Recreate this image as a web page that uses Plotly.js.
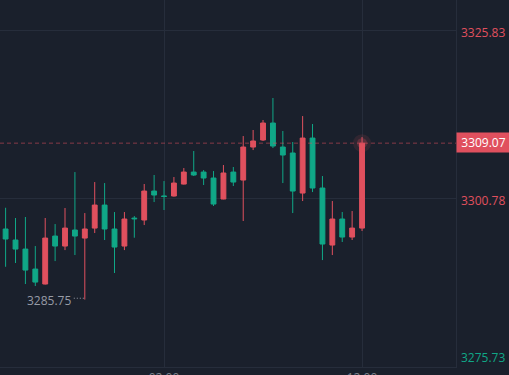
<!DOCTYPE html>
<html>
<head>
<meta charset="utf-8">
<script src="https://cdn.plot.ly/plotly-3.0.1.min.js"></script>
<style>
html,body{margin:0;padding:0;background:#1a202c;overflow:hidden;}
#chart{width:509px;height:375px;}
</style>
</head>
<body>
<div id="chart"></div>
<script>
const times = ['18:00','18:30','19:00','19:30','20:00','20:30','21:00','21:30','22:00','22:30','23:00','23:30','00:00','00:30','01:00','01:30','02:00','02:30','03:00','03:30','04:00','04:30','05:00','05:30','06:00','06:30','07:00','07:30','08:00','08:30','09:00','09:30','10:00','10:30','11:00','11:30','12:00'];
const open  = [3296.27,3294.63,3293.28,3290.30,3288.07,3295.22,3293.73,3296.12,3294.92,3296.41,3299.84,3296.27,3293.73,3297.90,3297.61,3301.93,3301.20,3301.19,3302.97,3304.76,3304.76,3303.87,3300.74,3304.76,3303.57,3308.49,3309.54,3312.07,3308.49,3307.60,3301.63,3309.83,3302.38,3293.88,3297.76,3295.07,3296.41];
const high  = [3299.44,3297.91,3298.06,3293.73,3297.91,3297.01,3299.40,3304.76,3298.65,3303.27,3303.12,3298.80,3298.80,3298.20,3302.98,3304.32,3303.42,3304.02,3305.36,3307.90,3305.06,3304.91,3305.81,3305.51,3310.13,3311.03,3312.52,3315.80,3310.88,3309.24,3313.11,3311.92,3304.17,3300.44,3298.80,3298.95,3309.98];
const low   = [3290.64,3291.20,3288.07,3287.77,3288.00,3291.49,3293.13,3292.39,3285.75,3295.67,3294.63,3289.71,3293.13,3294.97,3296.86,3300.29,3299.10,3301.10,3302.90,3304.17,3302.83,3299.70,3300.70,3302.68,3297.46,3308.04,3309.39,3308.34,3303.12,3298.65,3300.44,3301.78,3291.64,3292.39,3294.33,3294.63,3295.97];
const close = [3294.78,3293.28,3290.15,3288.36,3294.92,3293.73,3296.41,3295.22,3296.27,3299.84,3296.27,3293.58,3297.76,3297.80,3301.93,3301.34,3301.12,3303.12,3304.76,3304.32,3303.87,3299.99,3304.62,3303.27,3308.49,3309.39,3312.07,3308.64,3307.30,3301.93,3309.83,3302.38,3294.03,3297.76,3295.07,3296.41,3309.07];

const xTickVals = ['02:00','12:00'];
const yTickVals = [3325.83, 3300.78, 3275.73];
const yTickLabels = ['3325.83','3300.78','3275.73'];
const lastPriceLabel = '3309.07';
const lowLabel = '3285.75';

const RED = '#e0505e';
const GREEN = '#10a787';
const BG = '#1a202c';
const GRID = '#262d3b';

const tickColors = [RED, RED, GREEN];
const tickShift = [-2, -2, 9];

const lastIdx = close.length - 1;
let minIdx = 0;
for (let i = 1; i < low.length; i++) if (low[i] < low[minIdx]) minIdx = i;

const traces = [
  {
    type: 'candlestick',
    x: times, open: open, high: high, low: low, close: close,
    increasing: {line: {color: RED, width: 1}, fillcolor: RED},
    decreasing: {line: {color: GREEN, width: 1}, fillcolor: GREEN},
    whiskerwidth: 0,
    hoverinfo: 'skip',
    showlegend: false
  },
  {
    type: 'scatter', mode: 'markers',
    x: [times[lastIdx]], y: [close[lastIdx]],
    marker: {size: 18, color: 'rgba(224,80,94,0.12)'},
    hoverinfo: 'skip', showlegend: false
  },
  {
    type: 'scatter', mode: 'markers',
    x: [times[lastIdx]], y: [close[lastIdx]],
    marker: {size: 10, color: 'rgba(224,80,94,0.25)'},
    hoverinfo: 'skip', showlegend: false
  }
];

const annotations = yTickVals.map((v, i) => ({
  xref: 'paper', yref: 'y', x: 1, y: v,
  xanchor: 'left', yanchor: 'middle', xshift: 3, yshift: tickShift[i],
  text: yTickLabels[i], showarrow: false,
  font: {family: 'Open Sans, sans-serif', size: 12, color: tickColors[i]}
}));
annotations.push({
  xref: 'paper', yref: 'y', x: 1, y: close[lastIdx],
  xanchor: 'left', yanchor: 'middle', xshift: 0, yshift: 1,
  text: lastPriceLabel, showarrow: false,
  bgcolor: RED, borderpad: 2, width: 49, height: 15, align: 'center',
  font: {family: 'Open Sans, sans-serif', size: 12, color: '#ffffff'}
});
annotations.push({
  xref: 'x', yref: 'y', x: times[minIdx], y: low[minIdx],
  xanchor: 'right', yanchor: 'middle', xshift: -12, yshift: -1,
  text: lowLabel, showarrow: false,
  font: {family: 'Open Sans, sans-serif', size: 12, color: '#979ba6'}
});

const shapes = [
  {
    type: 'line', xref: 'paper', yref: 'y', x0: 0, x1: 1,
    y0: close[lastIdx], y1: close[lastIdx],
    line: {color: 'rgba(224,80,94,0.55)', width: 1, dash: '4px,3px'}
  },
  {
    type: 'line', xref: 'x', yref: 'y', xsizemode: 'pixel', xanchor: times[minIdx],
    x0: -11, x1: -1, y0: low[minIdx] + 0.2, y1: low[minIdx] + 0.2,
    line: {color: '#979ba6', width: 1, dash: '1px,2px'}
  }
];

const layout = {
  width: 509, height: 375,
  margin: {l: 0, r: 53, t: 0, b: 8, pad: 0},
  paper_bgcolor: BG, plot_bgcolor: BG,
  showlegend: false,
  hovermode: false,
  font: {family: 'Open Sans, sans-serif', size: 12, color: '#7b808b'},
  xaxis: {
    type: 'category',
    range: [-0.566, 45.49],
    rangeslider: {visible: false},
    tickmode: 'array', tickvals: xTickVals, ticktext: xTickVals,
    showgrid: true, gridcolor: GRID, gridwidth: 1,
    showline: true, linecolor: GRID, linewidth: 1,
    ticks: '', zeroline: false, fixedrange: true,
    tickfont: {family: 'Open Sans, sans-serif', size: 12, color: '#7b808b'}
  },
  yaxis: {
    side: 'right',
    range: [3275.70, 3330.41],
    tickmode: 'array', tickvals: yTickVals,
    showticklabels: false,
    showgrid: true, gridcolor: GRID, gridwidth: 1,
    showline: true, linecolor: GRID, linewidth: 1,
    ticks: '', zeroline: false, fixedrange: true
  },
  annotations: annotations,
  shapes: shapes
};

Plotly.newPlot('chart', traces, layout, {staticPlot: true, displayModeBar: false});
</script>
</body>
</html>
